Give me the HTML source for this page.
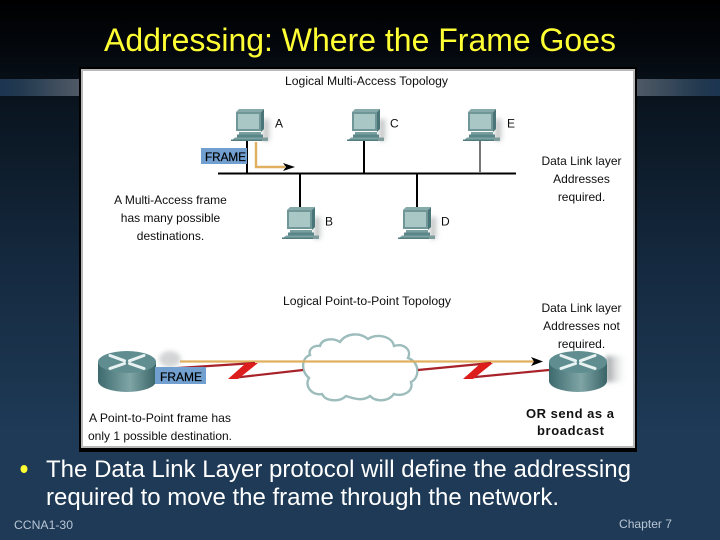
<!DOCTYPE html>
<html>
<head>
<meta charset="utf-8">
<style>
html,body{margin:0;padding:0;background:#1e3a56;}
svg{display:block;}
text{font-family:"Liberation Sans",Arial,sans-serif;}
</style>
</head>
<body>
<svg width="720" height="540" viewBox="0 0 720 540" xmlns="http://www.w3.org/2000/svg">
<defs>
<linearGradient id="bg" x1="0" y1="0" x2="0" y2="1">
<stop offset="0" stop-color="#000"/>
<stop offset="0.08" stop-color="#03060b"/>
<stop offset="0.2" stop-color="#0a1520"/>
<stop offset="0.5" stop-color="#152a40"/>
<stop offset="0.8" stop-color="#1e3a56"/>
<stop offset="1" stop-color="#1e3a56"/>
</linearGradient>
<linearGradient id="sl" x1="0" y1="0" x2="1" y2="0">
<stop offset="0" stop-color="#1c3550"/>
<stop offset="0.25" stop-color="#22394f"/>
<stop offset="1" stop-color="#505a66"/>
</linearGradient>
<linearGradient id="sr" x1="0" y1="0" x2="1" y2="0">
<stop offset="0" stop-color="#505a66"/>
<stop offset="0.75" stop-color="#22394f"/>
<stop offset="1" stop-color="#1c3550"/>
</linearGradient>
<linearGradient id="rside" x1="0" y1="0" x2="1" y2="0">
<stop offset="0" stop-color="#3d6a6e"/>
<stop offset="0.55" stop-color="#7fa5a6"/>
<stop offset="1" stop-color="#3a6468"/>
</linearGradient>
<linearGradient id="shad" x1="0" y1="0" x2="1" y2="0">
<stop offset="0" stop-color="#7d8386" stop-opacity=".85"/>
<stop offset="1" stop-color="#fff" stop-opacity="0"/>
</linearGradient>
<filter id="soft" x="-5%" y="-5%" width="110%" height="110%"><feGaussianBlur stdDeviation="0.35"/></filter>
<filter id="sb" x="-50%" y="-50%" width="200%" height="200%"><feGaussianBlur stdDeviation="2.5"/></filter>
<g id="pc">
<rect x="33" y="10" width="10" height="22" fill="url(#shad)" filter="url(#sb)"/>
<path d="M5 3 L8 0 L33 0 L30 3 Z" fill="#86aaaa"/>
<rect x="5" y="3" width="26" height="19" fill="#6f9698"/>
<path d="M30 3 L33 0 L33 20 L30 23 Z" fill="#4a7578"/>
<rect x="7" y="5" width="21" height="15" fill="#a9c7c5"/>
<rect x="8" y="23" width="22" height="2.500" fill="#7a9fa0"/>
<rect x="6" y="25.500" width="26" height="3" fill="#5a8688"/>
<path d="M4 28.500 L31 28.500 L33 32 L0 32 Z" fill="#7ba3a4"/>
<rect x="0" y="30.500" width="33" height="1.500" fill="#527c7e"/>
<rect x="31" y="28.500" width="6" height="3.500" fill="#7f9c9d"/>
</g>
<g id="router">
<path d="M0 11 V30 A29 11 0 0 0 58 30 V11 Z" fill="url(#rside)"/>
<ellipse cx="29" cy="11" rx="29" ry="11" fill="#5f8d90"/>
<path d="M12 4.500 L26.500 9.800 M46 4.500 L31.500 9.800 M12 17.500 L26.500 12.500 M46 17.500 L31.500 12.500" stroke="#e8f2f2" stroke-width="3" stroke-linecap="round"/>
</g>
</defs>

<rect width="720" height="540" fill="url(#bg)"/>
<rect x="0" y="79" width="80" height="17" fill="url(#sl)"/>
<rect x="636" y="79" width="84" height="17" fill="url(#sr)"/>

<rect x="79" y="67" width="558" height="385" fill="#000"/>
<rect x="81" y="69" width="554" height="379" fill="#b8b8b8"/>
<rect x="83" y="71" width="550" height="375" fill="#fff"/>

<g filter="url(#soft)">
<text x="366.500" y="85" font-size="11.500" text-anchor="middle" fill="#111" textLength="163" lengthAdjust="spacingAndGlyphs">Logical Multi-Access Topology</text>

<g stroke="#000" stroke-width="2" fill="none">
<path d="M218 173.500 H516"/>
<path d="M247 140 V173"/>
<path d="M364 140 V173"/>
<path d="M300 173 V208"/>
<path d="M417 173 V208"/>
</g>
<path d="M480 140 V173" stroke="#777" stroke-width="2"/>

<use href="#pc" x="231" y="109"/>
<use href="#pc" x="347" y="109"/>
<use href="#pc" x="463" y="109"/>
<use href="#pc" x="282" y="207"/>
<use href="#pc" x="398" y="207"/>

<g font-size="12" fill="#111">
<text x="275" y="127.500">A</text>
<text x="390" y="127.500">C</text>
<text x="507" y="127.500">E</text>
<text x="325" y="225.500">B</text>
<text x="441" y="225.500">D</text>
</g>

<rect x="201" y="148" width="46" height="16" fill="#6f9fd0"/>
<text x="205" y="161" font-size="11.500" fill="#000" stroke="#000" stroke-width=".2" textLength="41" lengthAdjust="spacingAndGlyphs">FRAME</text>
<path d="M256 142 V167 H285" fill="none" stroke="#e0b060" stroke-width="2.400"/>
<path d="M283 163 L295 167 L283 171 L286 167 Z" fill="#000"/>

<g font-size="12" fill="#111" text-anchor="middle">
<text x="170.500" y="204">A Multi-Access frame</text>
<text x="170.500" y="222">has many possible</text>
<text x="170.500" y="240">destinations.</text>
<text x="581.500" y="165">Data Link layer</text>
<text x="581.500" y="183">Addresses</text>
<text x="581.500" y="201">required.</text>
<text x="581.500" y="312">Data Link layer</text>
<text x="581.500" y="330">Addresses not</text>
<text x="581.500" y="348">required.</text>
</g>

<text x="367" y="305" font-size="11.500" text-anchor="middle" fill="#111" textLength="168" lengthAdjust="spacingAndGlyphs">Logical Point-to-Point Topology</text>

<path d="M320 346 C322 338 334 338 340 342 C346 333 360 332 368 339 C376 333 392 336 394 346 C404 343 412 350 408 358 C420 362 420 378 411 382 C414 392 402 397 394 394 C388 402 376 402 370 396 C362 402 352 398 346 396 C340 402 326 402 322 394 C312 396 304 386 309 378 C301 372 301 358 310 355 C308 349 314 345 320 346 Z" fill="#fff" stroke="#9dbcbc" stroke-width="2.400"/>

<ellipse cx="170" cy="359" rx="11" ry="8" fill="#a8aaac" opacity=".5" filter="url(#sb)"/>
<rect x="606" y="356" width="22" height="26" fill="url(#shad)" filter="url(#sb)"/>
<use href="#router" x="98" y="351"/>
<use href="#router" x="549" y="351"/>

<path d="M180 361.500 H534" stroke="#e0b060" stroke-width="2.200" fill="none"/>
<path d="M531 357 L543 361.500 L531 366 L534 361.500 Z" fill="#000"/>

<path d="M155 369.500 L255 363 M232 378 L303 370" stroke="#a8242a" stroke-width="2.200" fill="none"/>
<path d="M246 363 L258 363 L238 379 L228 379 Z" fill="#dd1f1f"/>
<path d="M418 370 L491 363 M465 378 L549 370" stroke="#a8242a" stroke-width="2.200" fill="none"/>
<path d="M481 363 L493 363 L473 379 L463 379 Z" fill="#dd1f1f"/>

<rect x="155" y="367" width="51" height="17" fill="#6f9fd0"/>
<text x="160" y="381" font-size="11.500" fill="#000" stroke="#000" stroke-width=".2" textLength="42" lengthAdjust="spacingAndGlyphs">FRAME</text>

<text x="89" y="422" font-size="12" fill="#111" textLength="142" lengthAdjust="spacingAndGlyphs">A Point-to-Point frame has</text>
<text x="88" y="440" font-size="12" fill="#111" textLength="144" lengthAdjust="spacingAndGlyphs">only 1 possible destination.</text>
</g>

<text x="526" y="418" font-size="13" font-weight="bold" fill="#111" textLength="88">OR send as a</text>
<text x="537" y="435" font-size="13" font-weight="bold" fill="#111" textLength="67">broadcast</text>

<text x="104" y="51" font-size="32" fill="#ffff33" textLength="512" lengthAdjust="spacingAndGlyphs">Addressing: Where the Frame Goes</text>

<ellipse cx="24" cy="469" rx="3.500" ry="4" fill="#ffff33"/>
<text x="46" y="477" font-size="24" fill="#fff" textLength="585" lengthAdjust="spacing">The Data Link Layer protocol will define the addressing</text>
<text x="46" y="505" font-size="24" fill="#fff" textLength="513" lengthAdjust="spacing">required to move the frame through the network.</text>

<text x="14" y="529" font-size="12" fill="#b9c6d4" textLength="59" lengthAdjust="spacingAndGlyphs">CCNA1-30</text>
<text x="619" y="528" font-size="12" fill="#b9c6d4" textLength="53" lengthAdjust="spacingAndGlyphs">Chapter 7</text>
</svg>
</body>
</html>
